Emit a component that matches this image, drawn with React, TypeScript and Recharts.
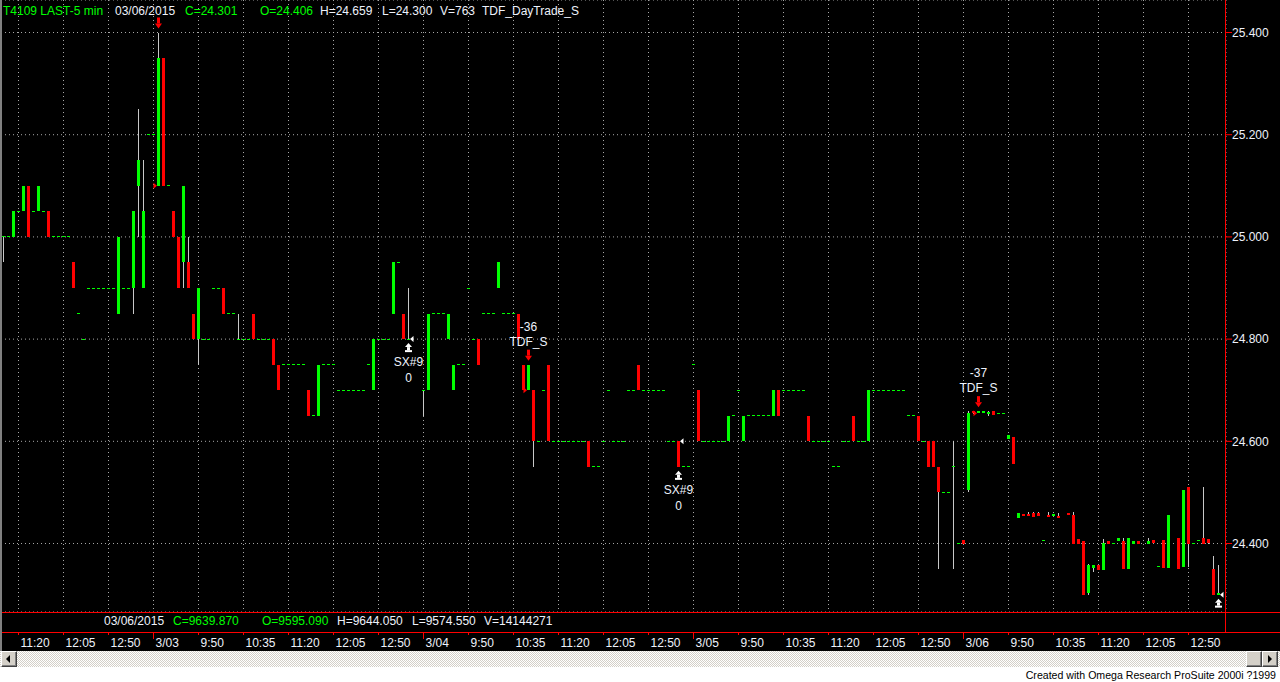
import React from 'react';
import { ComposedChart, Bar, Scatter, XAxis, YAxis, CartesianGrid, ReferenceDot } from 'recharts';

type OHLC = [number, number, number, number] | null; // open, high, low, close

// 5-minute bars, 3/02 (from 11:05)
const day0302: OHLC[] = [
  [25.00, 25.00, 24.95, 25.00], [25.00, 25.00, 25.00, 25.00], [25.00, 25.05, 25.00, 25.05], [25.05, 25.05, 25.05, 25.05],
  [25.05, 25.10, 25.05, 25.10], [25.10, 25.10, 25.00, 25.00], [25.05, 25.05, 25.05, 25.05], [25.05, 25.10, 25.05, 25.10],
  [25.05, 25.05, 25.05, 25.05], [25.05, 25.05, 25.00, 25.00], [25.00, 25.00, 25.00, 25.00], [25.00, 25.00, 25.00, 25.00],
  [25.00, 25.00, 25.00, 25.00], [25.00, 25.00, 25.00, 25.00], [24.95, 24.95, 24.90, 24.90], [24.85, 24.85, 24.85, 24.85],
  [24.80, 24.80, 24.80, 24.80], [24.90, 24.90, 24.90, 24.90], [24.90, 24.90, 24.90, 24.90], [24.90, 24.90, 24.90, 24.90],
  [24.90, 24.90, 24.90, 24.90], [24.90, 24.90, 24.90, 24.90], [24.90, 24.90, 24.90, 24.90], [24.85, 25.00, 24.85, 25.00],
  [24.90, 24.90, 24.90, 24.90], [24.90, 24.90, 24.90, 24.90], [24.90, 25.05, 24.85, 25.05], [25.10, 25.25, 25.00, 25.15],
  [24.90, 25.15, 24.90, 25.05], [25.20, 25.20, 25.20, 25.20],
];
// 3/03 (from 9:05)
const day0303: OHLC[] = [
  [25.20, 25.20, 25.20, 25.20], [25.10, 25.40, 25.10, 25.35], [25.35, 25.35, 25.10, 25.10], [25.10, 25.10, 25.10, 25.10],
  [25.05, 25.05, 25.00, 25.00], [25.00, 25.00, 24.90, 24.90], [24.95, 25.10, 24.90, 25.10], [24.95, 25.00, 24.90, 24.90],
  [24.85, 24.85, 24.80, 24.80], [24.80, 24.90, 24.75, 24.90], [24.80, 24.80, 24.80, 24.80], [24.80, 24.80, 24.80, 24.80],
  [24.90, 24.90, 24.90, 24.90], [24.90, 24.90, 24.90, 24.90], [24.90, 24.90, 24.85, 24.85], [24.85, 24.85, 24.85, 24.85],
  [24.85, 24.85, 24.85, 24.85], [24.80, 24.85, 24.80, 24.80], [24.80, 24.80, 24.80, 24.80], [24.80, 24.80, 24.80, 24.80],
  [24.85, 24.85, 24.80, 24.80], [24.80, 24.80, 24.80, 24.80], [24.80, 24.80, 24.80, 24.80], [24.80, 24.80, 24.80, 24.80],
  [24.80, 24.80, 24.75, 24.75], [24.75, 24.75, 24.70, 24.70], [24.75, 24.75, 24.75, 24.75], [24.75, 24.75, 24.75, 24.75],
  [24.75, 24.75, 24.75, 24.75], [24.75, 24.75, 24.75, 24.75], [24.75, 24.75, 24.75, 24.75], [24.70, 24.70, 24.65, 24.65],
  [24.65, 24.65, 24.65, 24.65], [24.65, 24.75, 24.65, 24.75], [24.75, 24.75, 24.75, 24.75], [24.75, 24.75, 24.75, 24.75],
  [24.75, 24.75, 24.75, 24.75], [24.70, 24.70, 24.70, 24.70], [24.70, 24.70, 24.70, 24.70], [24.70, 24.70, 24.70, 24.70],
  [24.70, 24.70, 24.70, 24.70], [24.70, 24.70, 24.70, 24.70], [24.70, 24.70, 24.70, 24.70], [24.75, 24.75, 24.75, 24.75],
  [24.70, 24.80, 24.70, 24.80], [24.80, 24.80, 24.80, 24.80], [24.80, 24.80, 24.80, 24.80], [24.80, 24.80, 24.80, 24.80],
  [24.85, 24.95, 24.85, 24.95], [24.95, 24.95, 24.95, 24.95], [24.85, 24.85, 24.80, 24.80], [24.80, 24.90, 24.80, 24.80],
  null, null,
];
// 3/04
const day0304: OHLC[] = [
  [24.70, 24.70, 24.65, 24.70], [24.70, 24.85, 24.70, 24.85], [24.85, 24.85, 24.85, 24.85], [24.85, 24.85, 24.85, 24.85],
  [24.85, 24.85, 24.85, 24.85], [24.80, 24.85, 24.80, 24.85], [24.70, 24.75, 24.70, 24.75], [24.75, 24.75, 24.75, 24.75],
  [24.75, 24.75, 24.75, 24.75], [24.90, 24.90, 24.90, 24.90], [24.80, 24.80, 24.80, 24.80], [24.80, 24.80, 24.75, 24.75],
  [24.85, 24.85, 24.85, 24.85], [24.85, 24.85, 24.85, 24.85], [24.85, 24.85, 24.85, 24.85], [24.90, 24.95, 24.90, 24.95],
  [24.85, 24.85, 24.85, 24.85], [24.85, 24.85, 24.85, 24.85], [24.85, 24.85, 24.85, 24.85], [24.85, 24.85, 24.80, 24.80],
  [24.75, 24.75, 24.70, 24.70], [24.70, 24.75, 24.70, 24.75], [24.70, 24.70, 24.55, 24.60], [24.60, 24.60, 24.60, 24.60],
  [24.70, 24.70, 24.70, 24.70], [24.75, 24.75, 24.60, 24.60], [24.60, 24.60, 24.60, 24.60], [24.60, 24.60, 24.60, 24.60],
  [24.60, 24.60, 24.60, 24.60], [24.60, 24.60, 24.60, 24.60], [24.60, 24.60, 24.60, 24.60], [24.60, 24.60, 24.60, 24.60],
  [24.60, 24.60, 24.60, 24.60], [24.60, 24.60, 24.55, 24.55], [24.55, 24.55, 24.55, 24.55], [24.55, 24.55, 24.55, 24.55],
  [24.60, 24.60, 24.60, 24.60], [24.70, 24.70, 24.70, 24.70], [24.60, 24.60, 24.60, 24.60], [24.60, 24.60, 24.60, 24.60],
  [24.60, 24.60, 24.60, 24.60], [24.70, 24.70, 24.70, 24.70], [24.70, 24.70, 24.70, 24.70], [24.75, 24.75, 24.70, 24.70],
  [24.70, 24.70, 24.70, 24.70], [24.70, 24.70, 24.70, 24.70], [24.70, 24.70, 24.70, 24.70], [24.70, 24.70, 24.70, 24.70],
  [24.70, 24.70, 24.70, 24.70], [24.60, 24.60, 24.60, 24.60], [24.60, 24.60, 24.60, 24.60], [24.60, 24.60, 24.55, 24.55],
  [24.55, 24.55, 24.55, 24.55], [24.55, 24.55, 24.55, 24.55],
];
// 3/05
const day0305: OHLC[] = [
  [24.75, 24.75, 24.75, 24.75], [24.70, 24.70, 24.60, 24.60], [24.60, 24.60, 24.60, 24.60], [24.60, 24.60, 24.60, 24.60],
  [24.60, 24.60, 24.60, 24.60], [24.60, 24.60, 24.60, 24.60], [24.60, 24.60, 24.60, 24.60], [24.60, 24.65, 24.60, 24.65],
  [24.65, 24.65, 24.65, 24.65], [24.70, 24.70, 24.70, 24.70], [24.60, 24.65, 24.60, 24.65], [24.65, 24.65, 24.65, 24.65],
  [24.65, 24.65, 24.65, 24.65], [24.65, 24.65, 24.65, 24.65], [24.65, 24.65, 24.65, 24.65], [24.65, 24.65, 24.65, 24.65],
  [24.65, 24.70, 24.65, 24.70], [24.70, 24.70, 24.65, 24.65], [24.70, 24.70, 24.70, 24.70], [24.70, 24.70, 24.70, 24.70],
  [24.70, 24.70, 24.70, 24.70], [24.70, 24.70, 24.70, 24.70], [24.70, 24.70, 24.70, 24.70], [24.65, 24.65, 24.60, 24.60],
  [24.60, 24.60, 24.60, 24.60], [24.60, 24.60, 24.60, 24.60], [24.60, 24.60, 24.60, 24.60], [24.60, 24.60, 24.60, 24.60],
  [24.55, 24.55, 24.55, 24.55], [24.55, 24.55, 24.55, 24.55], [24.60, 24.60, 24.60, 24.60], [24.60, 24.60, 24.60, 24.60],
  [24.65, 24.65, 24.60, 24.60], [24.60, 24.60, 24.60, 24.60], [24.60, 24.60, 24.60, 24.60], [24.60, 24.70, 24.60, 24.70],
  [24.70, 24.70, 24.70, 24.70], [24.70, 24.70, 24.70, 24.70], [24.70, 24.70, 24.70, 24.70], [24.70, 24.70, 24.70, 24.70],
  [24.70, 24.70, 24.70, 24.70], [24.70, 24.70, 24.70, 24.70], [24.70, 24.70, 24.70, 24.70], [24.65, 24.65, 24.65, 24.65],
  [24.65, 24.65, 24.65, 24.65], [24.65, 24.65, 24.60, 24.60], [24.60, 24.60, 24.60, 24.60], [24.60, 24.60, 24.55, 24.55],
  [24.60, 24.60, 24.55, 24.55], [24.55, 24.55, 24.35, 24.50], [24.50, 24.50, 24.50, 24.50], [24.50, 24.50, 24.50, 24.50],
  [24.55, 24.60, 24.35, 24.55], [24.40, 24.40, 24.40, 24.40],
];
// 3/06
const day0306: OHLC[] = [
  [24.406, 24.406, 24.40, 24.40], [24.505, 24.659, 24.50, 24.655], [24.659, 24.659, 24.654, 24.655], [24.655, 24.659, 24.655, 24.659],
  [24.655, 24.659, 24.655, 24.659], [24.654, 24.659, 24.650, 24.658], [24.659, 24.659, 24.652, 24.652], [24.655, 24.655, 24.655, 24.655],
  [24.655, 24.655, 24.655, 24.655], [24.605, 24.612, 24.605, 24.612], [24.608, 24.608, 24.555, 24.555], [24.450, 24.460, 24.450, 24.460],
  [24.458, 24.458, 24.454, 24.454], [24.458, 24.462, 24.455, 24.455], [24.460, 24.462, 24.452, 24.452], [24.460, 24.462, 24.454, 24.454],
  [24.405, 24.405, 24.405, 24.405], [24.455, 24.462, 24.452, 24.452], [24.454, 24.458, 24.454, 24.458], [24.452, 24.460, 24.450, 24.450],
  null, [24.460, 24.460, 24.455, 24.455], [24.455, 24.462, 24.400, 24.400], [24.408, 24.408, 24.400, 24.400],
  [24.405, 24.405, 24.300, 24.300], [24.304, 24.360, 24.300, 24.357], [24.352, 24.357, 24.345, 24.357], [24.357, 24.357, 24.348, 24.348],
  [24.348, 24.408, 24.348, 24.402], [24.404, 24.404, 24.400, 24.400], [24.400, 24.400, 24.400, 24.400], [24.405, 24.410, 24.405, 24.410],
  [24.405, 24.410, 24.350, 24.350], [24.350, 24.410, 24.350, 24.410], [24.400, 24.405, 24.400, 24.405], [24.405, 24.405, 24.400, 24.400],
  null, [24.400, 24.410, 24.400, 24.405], [24.406, 24.406, 24.402, 24.402], [24.355, 24.355, 24.355, 24.355],
  [24.407, 24.407, 24.352, 24.352], [24.352, 24.456, 24.352, 24.456], null, [24.410, 24.410, 24.350, 24.350],
  [24.355, 24.504, 24.355, 24.504], [24.510, 24.510, 24.355, 24.400], [24.400, 24.400, 24.400, 24.400], [24.405, 24.405, 24.405, 24.405],
  [24.410, 24.510, 24.400, 24.400], [24.408, 24.408, 24.400, 24.402], [24.350, 24.375, 24.300, 24.300], [24.300, 24.357, 24.300, 24.301],
];

const days = [
  { date: '3/02', startMin: 11 * 60 + 5, bars: day0302, showDate: false },
  { date: '3/03', startMin: 9 * 60 + 5, bars: day0303, showDate: true },
  { date: '3/04', startMin: 9 * 60 + 5, bars: day0304, showDate: true },
  { date: '3/05', startMin: 9 * 60 + 5, bars: day0305, showDate: true },
  { date: '3/06', startMin: 9 * 60 + 5, bars: day0306, showDate: true },
];
const axisTimes = ['9:50', '10:35', '11:20', '12:05', '12:50'];
const priceTicks = [24.4, 24.6, 24.8, 25.0, 25.2, 25.4];
const priceDomain: [number, number] = [24.266, 25.4636];

// strategy markers
const shortEntries = [
  { k: 29, high: 25.40, entry: 25.10, tag: '', name: '' },
  { k: 103, high: 24.75, entry: 24.70, tag: '-36', name: 'TDF_S' },
  { k: 193, high: 24.659, entry: 24.655, tag: '-37', name: 'TDF_S' },
];
const exits = [
  { k: 79, price: 24.80, low: 24.80, name: 'SX#9', qty: '0' },
  { k: 133, price: 24.60, low: 24.55, name: 'SX#9', qty: '0' },
  { k: 241, price: 24.30, low: 24.30, name: '', qty: '' },
];

const GREEN = '#00ff00';
const RED = '#ff0000';
const WICK = '#c8c8c8';
const TXT = '#eef2fb';
const FONT = '"Liberation Sans", Arial, sans-serif';

const fmtTime = (m: number) => `${Math.floor(m / 60)}:${String(m % 60).padStart(2, '0')}`;

type Row = {
  k: number; o: number | null; h: number | null; l: number | null; c: number | null;
  wick: number[] | null; body: number[] | null; flat: number | null; label: string; isDay: boolean;
};

const rows: Row[] = [];
let kk = -2;
days.forEach((d) => {
  d.bars.forEach((b, j) => {
    const t = fmtTime(d.startMin + 5 * j);
    const isDay = d.showDate && j === 0;
    const label = isDay ? d.date : axisTimes.includes(t) ? t : '';
    if (b) {
      const [o, h, l, c] = b;
      rows.push({
        k: kk, o, h, l, c,
        wick: h > l ? [l, h] : null,
        body: o !== c ? [Math.min(o, c), Math.max(o, c)] : null,
        flat: o === c ? c : null,
        label, isDay,
      });
    } else {
      rows.push({ k: kk, o: null, h: null, l: null, c: null, wick: null, body: null, flat: null, label, isDay });
    }
    kk += 1;
  });
});
rows.push({ k: kk, o: null, h: null, l: null, c: null, wick: null, body: null, flat: null, label: '', isDay: false });

const tickKeys = rows.filter((r) => r.label !== '').map((r) => r.k);
const rowByK: Record<number, Row> = {};
rows.forEach((r) => { rowByK[r.k] = r; });

const WickShape = (p: any) => {
  const { x, y, width, height, payload } = p;
  if (!payload || payload.wick == null || height == null) return <g />;
  const top = height < 0 ? y + height : y;
  return <rect x={x} y={top} width={width} height={Math.abs(height)} fill={WICK} shapeRendering="crispEdges" />;
};

const BodyShape = (p: any) => {
  const { x, y, width, height, payload } = p;
  if (!payload || payload.body == null || height == null) return <g />;
  let h = Math.abs(height);
  let top = height < 0 ? y + height : y;
  if (h < 2) { top -= (2 - h) / 2; h = 2; }
  return <rect x={x} y={top} width={width} height={h} fill={payload.c > payload.o ? GREEN : RED} shapeRendering="crispEdges" />;
};

const FlatShape = (p: any) => {
  const { cx, cy, payload } = p;
  if (!payload || payload.flat == null || cy == null || isNaN(cy) || cx == null) return <g />;
  return <rect x={cx - 1.5} y={cy - 0.5} width={3} height={1} fill={GREEN} shapeRendering="crispEdges" />;
};

const TimeTick = (p: any) => {
  const { x, payload } = p;
  const r = rowByK[payload.value];
  if (!r) return <g />;
  return (
    <g>
      <line x1={x} x2={x} y1={632} y2={r.isDay ? 639 : 635} stroke={RED} strokeWidth={1} />
      <text x={x + 2} y={647} fill={TXT} fontSize={12} fontFamily={FONT}>{r.label}</text>
    </g>
  );
};

const ShortArrow = (info: { tag: string; name: string }) => (p: any) => {
  const { cx, cy } = p;
  if (cx == null || cy == null) return <g />;
  const tip = cy - 4;
  return (
    <g>
      <rect x={cx - 1.5} y={tip - 11} width={3} height={6} fill={RED} />
      <polygon points={`${cx - 3.5},${tip - 5} ${cx + 3.5},${tip - 5} ${cx},${tip}`} fill={RED} />
      {info.name ? <text x={cx} y={tip - 14.7} textAnchor="middle" fill={TXT} fontSize={12} fontFamily={FONT}>{info.name}</text> : null}
      {info.tag ? <text x={cx} y={tip - 30} textAnchor="middle" fill={TXT} fontSize={12} fontFamily={FONT}>{info.tag}</text> : null}
    </g>
  );
};

const EntryTick = (p: any) => {
  const { cx, cy } = p;
  if (cx == null || cy == null) return <g />;
  return <polygon points={`${cx - 5},${cy - 3} ${cx - 5},${cy + 3} ${cx - 1.5},${cy}`} fill={RED} />;
};

const ExitTick = (p: any) => {
  const { cx, cy } = p;
  if (cx == null || cy == null) return <g />;
  return <polygon points={`${cx + 1.5},${cy} ${cx + 5},${cy - 3} ${cx + 5},${cy + 3}`} fill="#ffffff" />;
};

const ExitArrow = (info: { name: string; qty: string }) => (p: any) => {
  const { cx, cy } = p;
  if (cx == null || cy == null) return <g />;
  return (
    <g>
      <polygon points={`${cx - 3.5},${cy + 8} ${cx + 3.5},${cy + 8} ${cx},${cy + 4}`} fill="#ffffff" />
      <rect x={cx - 1.5} y={cy + 8} width={3} height={3} fill="#ffffff" />
      <rect x={cx - 3.5} y={cy + 11} width={7} height={2} fill="#ffffff" />
      {info.name ? <text x={cx} y={cy + 27} textAnchor="middle" fill={TXT} fontSize={12} fontFamily={FONT}>{info.name}</text> : null}
      {info.qty ? <text x={cx} y={cy + 43} textAnchor="middle" fill={TXT} fontSize={12} fontFamily={FONT}>{info.qty}</text> : null}
    </g>
  );
};

const span = (left: number, top: number, text: string, color: string) => (
  <span style={{ position: 'absolute', left, top, color, fontSize: 12, lineHeight: '14px', fontFamily: FONT, whiteSpace: 'nowrap' }}>{text}</span>
);

const headerItems: [number, string, string][] = [
  [3, 'T4109 LAST-5 min', GREEN],
  [115, '03/06/2015', TXT],
  [185, 'C=24.301', GREEN],
  [260, 'O=24.406', GREEN],
  [320, 'H=24.659', TXT],
  [382, 'L=24.300', TXT],
  [440, 'V=763', TXT],
  [482, 'TDF_DayTrade_S', TXT],
];
const subItems: [number, string, string][] = [
  [104, '03/06/2015', TXT],
  [173, 'C=9639.870', GREEN],
  [262, 'O=9595.090', GREEN],
  [337, 'H=9644.050', TXT],
  [412, 'L=9574.550', TXT],
  [484, 'V=14144271', TXT],
];

const btn: React.CSSProperties = {
  position: 'absolute', top: 651, width: 16, height: 16, boxSizing: 'border-box', background: '#d4d0c8',
  borderStyle: 'solid', borderWidth: 1, borderColor: '#ffffff #404040 #404040 #ffffff',
  boxShadow: 'inset -1px -1px #808080',
};

export default function App() {
  return (
    <div style={{ position: 'absolute', left: 0, top: 0, width: 1280, height: 682, background: '#ffffff', overflow: 'hidden' }}>
      <div style={{ position: 'absolute', left: 0, top: 0, width: 1280, height: 651, background: '#000000' }} />
      <div style={{ position: 'absolute', left: 0, top: 0 }}>
        <ComposedChart width={1280} height={652} data={rows} margin={{ top: 0, right: 0, bottom: 0, left: 1 }}>
          <CartesianGrid xAxisId="main" yAxisId="p" stroke="#a8a8a8" strokeDasharray="1 3" />
          <XAxis xAxisId="main" dataKey="k" type="category" ticks={tickKeys} interval={0} height={40}
            tick={<TimeTick />} tickLine={false} axisLine={false} tickSize={0} tickMargin={0} />
          <XAxis xAxisId="w" dataKey="k" type="category" hide />
          <XAxis xAxisId="b" dataKey="k" type="category" hide />
          <YAxis yAxisId="p" orientation="right" type="number" domain={priceDomain} ticks={priceTicks}
            allowDataOverflow width={54} axisLine={false} tickSize={6} tickMargin={0}
            tickLine={{ stroke: RED }} tickFormatter={(v: number) => v.toFixed(3)}
            tick={{ fill: TXT, fontSize: 12, fontFamily: FONT }} />
          <Bar xAxisId="w" yAxisId="p" dataKey="wick" barSize={1} shape={WickShape} isAnimationActive={false} />
          <Bar xAxisId="b" yAxisId="p" dataKey="body" barSize={3} shape={BodyShape} isAnimationActive={false} />
          <Scatter xAxisId="main" yAxisId="p" dataKey="flat" shape={FlatShape} isAnimationActive={false} />
          {shortEntries.map((s) => (
            <ReferenceDot key={`se${s.k}`} xAxisId="main" yAxisId="p" x={s.k} y={s.high} ifOverflow="visible"
              shape={ShortArrow({ tag: s.tag, name: s.name })} />
          ))}
          {shortEntries.map((s) => (
            <ReferenceDot key={`et${s.k}`} xAxisId="main" yAxisId="p" x={s.k} y={s.entry} ifOverflow="visible" shape={EntryTick} />
          ))}
          {exits.map((s) => (
            <ReferenceDot key={`xt${s.k}`} xAxisId="main" yAxisId="p" x={s.k} y={s.price} ifOverflow="visible" shape={ExitTick} />
          ))}
          {exits.map((s) => (
            <ReferenceDot key={`xa${s.k}`} xAxisId="main" yAxisId="p" x={s.k} y={s.low} ifOverflow="visible"
              shape={ExitArrow({ name: s.name, qty: s.qty })} />
          ))}
        </ComposedChart>
      </div>
      {/* frame lines */}
      <div style={{ position: 'absolute', left: 0, top: 612, width: 1280, height: 1, background: RED }} />
      <div style={{ position: 'absolute', left: 0, top: 632, width: 1280, height: 1, background: RED }} />
      <div style={{ position: 'absolute', left: 1225, top: 0, width: 1, height: 632, background: RED }} />
      <div style={{ position: 'absolute', left: 0, top: 0, width: 2, height: 651, background: '#808080' }} />
      {headerItems.map(([x, t, c], i) => <React.Fragment key={`h${i}`}>{span(x, 4, t, c)}</React.Fragment>)}
      {subItems.map(([x, t, c], i) => <React.Fragment key={`s${i}`}>{span(x, 614, t, c)}</React.Fragment>)}
      {/* scrollbar */}
      <div style={{
        position: 'absolute', left: 0, top: 651, width: 1280, height: 16,
        backgroundImage: 'conic-gradient(#d4d0c8 25%, #ffffff 0 50%, #d4d0c8 0 75%, #ffffff 0)', backgroundSize: '2px 2px',
      }} />
      <div style={{ ...btn, left: 1 }}>
        <div style={{ position: 'absolute', left: 4, top: 3, width: 0, height: 0, borderTop: '4px solid transparent', borderBottom: '4px solid transparent', borderRight: '4px solid #000' }} />
      </div>
      <div style={{ ...btn, left: 1246 }} />
      <div style={{ ...btn, left: 1262 }}>
        <div style={{ position: 'absolute', left: 5, top: 3, width: 0, height: 0, borderTop: '4px solid transparent', borderBottom: '4px solid transparent', borderLeft: '4px solid #000' }} />
      </div>
      <div style={{ position: 'absolute', right: 4, top: 669, color: '#000', fontSize: 10.6, lineHeight: '13px', fontFamily: FONT, whiteSpace: 'nowrap' }}>
        Created with Omega Research ProSuite 2000i ?1999
      </div>
    </div>
  );
}
